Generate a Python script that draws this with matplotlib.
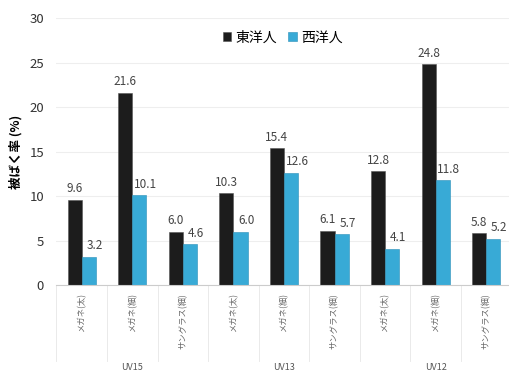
import numpy as np
import matplotlib.pyplot as plt

plt.rcParams['font.family'] = ['Noto Sans CJK JP', 'DejaVu Sans']

groups = ['UV15', 'UV13', 'UV12']
items = ['メガネ(太)', 'メガネ(細)', 'サングラス(細)']
east = [9.6, 21.6, 6.0, 10.3, 15.4, 6.1, 12.8, 24.8, 5.8]
west = [3.2, 10.1, 4.6, 6.0, 12.6, 5.7, 4.1, 11.8, 5.2]

black = '#1c1c1c'
blue = '#38aad6'

fig = plt.figure(figsize=(5.09, 3.77), dpi=100)
ax = fig.add_axes([0.111, 0.244, 0.889, 0.708])

x = np.arange(len(east))
w = 0.28
ax.bar(x - w / 2, east, w, color=black, edgecolor='#555555', linewidth=0.4, label='東洋人')
ax.bar(x + w / 2, west, w, color=blue, edgecolor='#2a8fb8', linewidth=0.4, label='西洋人')

for xi, v in zip(x, east):
    ax.text(xi - w / 2, v + 0.5, f'{v:.1f}', ha='center', va='bottom', fontsize=8.5, color='#444444')
for xi, v in zip(x, west):
    ax.text(xi + w / 2 + 0.12, v + 0.5, f'{v:.1f}', ha='center', va='bottom', fontsize=8.5, color='#444444')

ax.set_xlim(-0.5, 8.45)
ax.set_ylim(0, 30)
ax.set_yticks(range(0, 31, 5))
ax.tick_params(axis='y', length=0, labelsize=9.5, labelcolor='#333333', pad=9)
ax.yaxis.grid(True, color='#eeeeee', linewidth=0.8)
ax.set_axisbelow(True)
for s in ['top', 'right', 'left']:
    ax.spines[s].set_visible(False)
ax.spines['bottom'].set_color('#cccccc')

ax.set_ylabel('被ばく率 (%)', fontsize=9, fontweight='bold', labelpad=5)

# two-level category axis
ax.set_xticks([])
labels = items * len(groups)
for xi, lab in zip(x, labels):
    ax.text(xi, -0.9, lab, rotation=90, ha='center', va='top', fontsize=6, color='#666666')
for i in range(0, len(east)):
    ax.plot([i - 0.5, i - 0.5], [0, -8.5], color='#e6e6e6', linewidth=0.6, clip_on=False)
for g, name in enumerate(groups):
    ax.text(3 * g + 1, -9.3, name, ha='center', va='center', fontsize=6.5, color='#555555')

ax.legend(loc='upper center', bbox_to_anchor=(0.5, 1.0), ncol=2, frameon=False,
          fontsize=10, handlelength=0.6, handleheight=0.6, handletextpad=0.3, columnspacing=0.8)

fig.savefig('out.png', dpi=100)
